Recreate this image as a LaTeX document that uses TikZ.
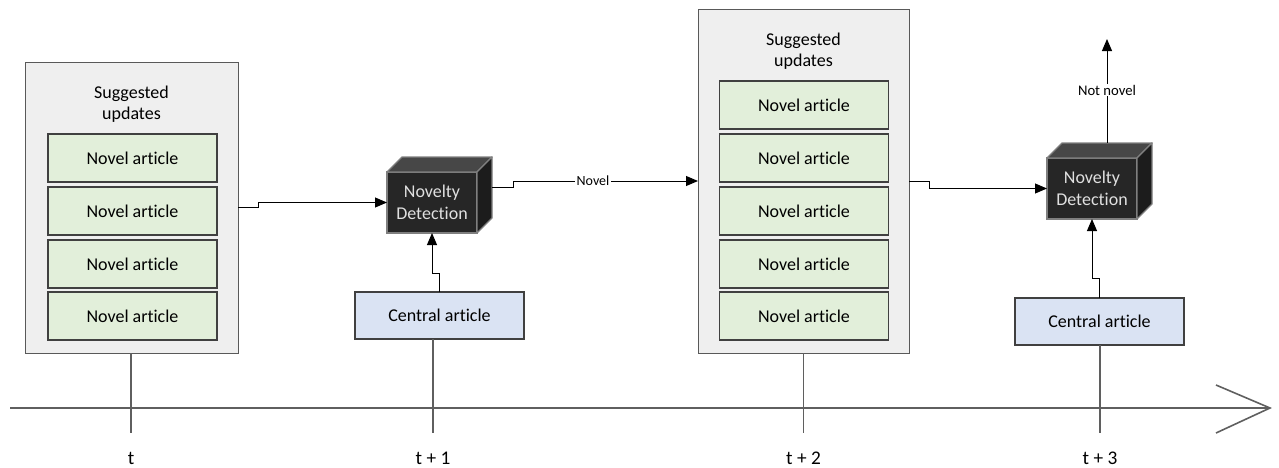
\documentclass[tikz,border=0pt]{standalone}
\usepackage{fontspec}
\setmainfont[Ligatures={NoCommon}]{Carlito}
\usetikzlibrary{arrows.meta,calc}
\definecolor{contfill}{HTML}{EFEFEF}
\definecolor{contdraw}{HTML}{595959}
\definecolor{greenfill}{HTML}{E2EFDA}
\definecolor{bluefill}{HTML}{DAE3F3}
\definecolor{boxdraw}{HTML}{404040}
\definecolor{cubefront}{HTML}{262626}
\definecolor{cubetop}{HTML}{474747}
\definecolor{cubeside}{HTML}{1C1C1C}
\definecolor{cubeedge}{HTML}{7F7F7F}
\definecolor{linecol}{HTML}{5F5F5F}
\begin{document}
\begin{tikzpicture}[x=0.75pt,y=-0.75pt,
 txt/.style={font=\fontsize{13.5}{15.5}\selectfont},
 container/.style={draw=contdraw,fill=contfill,line width=0.75pt,inner sep=0,outer sep=0},
 article/.style={draw=boxdraw,fill=greenfill,line width=1pt,minimum width=126.75pt,minimum height=36pt,inner sep=0,outer sep=0,txt},
 central/.style={article,fill=bluefill,minimum height=35.25pt},
 front/.style={draw=cubeedge,fill=cubefront,line width=1pt,minimum width=67.5pt,minimum height=45.75pt,inner sep=0,outer sep=0,align=center,text=white!88!black,font=\fontsize{13.5}{16.5}\selectfont},
 conn/.style={draw=black,line width=0.75pt,-{Triangle[length=9pt,width=7.5pt]}},
 tick/.style={draw=linecol,line width=1.2pt},
 small/.style={font=\fontsize{10.5}{12}\selectfont,fill=white,inner sep=1pt}
]
\useasboundingbox (0,0) rectangle (1279,468);

% containers
\node[container,minimum width=159.75pt,minimum height=218.25pt] (cont1) at (131.5,207.5) {};
\node[container,minimum width=158.25pt,minimum height=258pt] (cont2) at (803.5,181) {};
\node[txt,align=center] (sug1) at (131.5,104.5) {Suggested\\updates};
\node[txt,align=center] (sug2) at (803.5,51.5) {Suggested\\updates};

\node[article] (a11) at (132.5,158) {Novel article};
\node[article] (a12) at (132.5,211) {Novel article};
\node[article] (a13) at (132.5,264) {Novel article};
\node[article] (a14) at (132.5,316) {Novel article};

\node[article] (a21) at (804,105) {Novel article};
\node[article] (a22) at (804,158) {Novel article};
\node[article] (a23) at (804,211) {Novel article};
\node[article] (a24) at (804,264) {Novel article};
\node[article] (a25) at (804,316) {Novel article};

% central articles
\node[central] (ca1) at (439.5,315.5) {Central article};
\node[central] (ca2) at (1099.5,321.5) {Central article};

% cubes
\node[front] (nd1) at (432,202.5) {Novelty\\Detection};
\fill[cubetop,draw=cubeedge,line width=1pt,line join=round] (nd1.north west) -- ++(15,-15) -- ($(nd1.north east)+(15,-15)$) -- (nd1.north east) -- cycle;
\fill[cubeside,draw=cubeedge,line width=1pt,line join=round] (nd1.north east) -- ++(15,-15) -- ($(nd1.south east)+(15,-15)$) -- (nd1.south east) -- cycle;
\coordinate (b1e) at ($(nd1.east)+(15,-15)$);

\node[front] (nd2) at (1092,188.5) {Novelty\\Detection};
\fill[cubetop,draw=cubeedge,line width=1pt,line join=round] (nd2.north west) -- ++(15,-15) -- ($(nd2.north east)+(15,-15)$) -- (nd2.north east) -- cycle;
\fill[cubeside,draw=cubeedge,line width=1pt,line join=round] (nd2.north east) -- ++(15,-15) -- ($(nd2.south east)+(15,-15)$) -- (nd2.south east) -- cycle;
\coordinate (b2n) at ($(nd2.north)+(15,-15)$);

% connectors
\draw[conn] (cont1.east) -- ++(20,0) |- (nd1.west);
\draw[conn] (b1e) -- ++(21,0) |- (cont2.west);
\node[small] (novel) at (593,181) {Novel};
\draw[conn] (cont2.east) -- ++(20,0) |- (nd2.west);
\draw[conn] (ca1.north) -- ++(0,-19) -| (nd1.south);
\draw[conn] (ca2.north) -- ++(0,-20) -| (nd2.south);
\coordinate (out) at (1107,39);
\draw[conn] (b2n) -- (out);
\node[small,font=\fontsize{11}{13}\selectfont] (notnovel) at (1107,90) {Not novel};

% timeline
\coordinate (ax0) at (10,408);
\coordinate (ax1) at (1270,408);
\coordinate (h1) at (1216,385);
\coordinate (h2) at (1216,433);
\draw[tick] (ax0) -- (ax1);
\draw[tick,line join=miter] (h1) -- (ax1) -- (h2);

\coordinate (t0) at (131,433);
\coordinate (t1) at (433,433);
\coordinate (t2) at (803.5,433);
\coordinate (t3) at (1100,433);
\draw[tick] (cont1.south -| t0) -- (t0);
\draw[tick] (ca1.south -| t1) -- (t1);
\draw[tick] (cont2.south) -- (t2);
\draw[tick] (ca2.south -| t3) -- (t3);

\node[font=\fontsize{14.5}{16}\selectfont] (l0) at (131,458) {t};
\node[font=\fontsize{14.5}{16}\selectfont] (l1) at (433,458) {t + 1};
\node[font=\fontsize{14.5}{16}\selectfont] (l2) at (803.5,458) {t + 2};
\node[font=\fontsize{14.5}{16}\selectfont] (l3) at (1100,458) {t + 3};
\end{tikzpicture}
\end{document}
